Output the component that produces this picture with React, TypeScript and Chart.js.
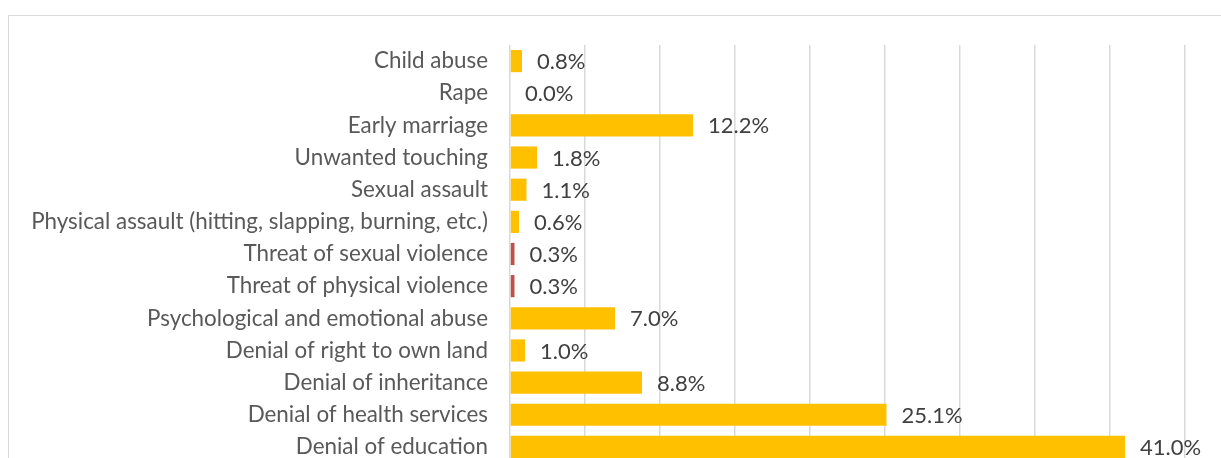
import React, { useEffect, useRef } from "react";
import { Chart, registerables } from "chart.js";

Chart.register(...registerables);

const categories = [
  "Child abuse",
  "Rape",
  "Early marriage",
  "Unwanted touching",
  "Sexual assault",
  "Physical assault (hitting, slapping, burning, etc.)",
  "Threat of sexual violence",
  "Threat of physical violence",
  "Psychological and emotional abuse",
  "Denial of right to own land",
  "Denial of inheritance",
  "Denial of health services",
  "Denial of education",
];

const values = [0.8, 0.0, 12.2, 1.8, 1.1, 0.6, 0.3, 0.3, 7.0, 1.0, 8.8, 25.1, 41.0];

const barColors = [
  "#FFC000", "#FFC000", "#FFC000", "#FFC000", "#FFC000", "#FFC000",
  "#C0504D", "#C0504D",
  "#FFC000", "#FFC000", "#FFC000", "#FFC000", "#FFC000",
];

const xMin = 0;
const xMax = 45;
const xStep = 5;

const FONT = "Lato, 'Open Sans', sans-serif";
const LABEL_SIZE = 22.4;
const VALUE_SIZE = 22;

const valueLabelPlugin = {
  id: "valueLabels",
  afterDatasetsDraw(chart: any) {
    const ctx = chart.ctx;
    const meta = chart.getDatasetMeta(0);
    ctx.save();
    ctx.font = `${VALUE_SIZE}px ${FONT}`;
    ctx.fillStyle = "#404040";
    ctx.textAlign = "left";
    ctx.textBaseline = "middle";
    meta.data.forEach((bar: any, i: number) => {
      const v = values[i];
      ctx.fillText(v.toFixed(1) + "%", bar.x + 15, bar.y + 1);
    });
    ctx.restore();
  },
};

export default function App() {
  const ref = useRef<HTMLCanvasElement | null>(null);

  useEffect(() => {
    if (!ref.current) return;
    const chart = new Chart(ref.current, {
      type: "bar",
      data: {
        labels: categories,
        datasets: [
          {
            data: values,
            backgroundColor: barColors,
            borderWidth: 0,
            barPercentage: 1,
            categoryPercentage: 0.69,
          },
        ],
      },
      options: {
        indexAxis: "y",
        responsive: false,
        maintainAspectRatio: false,
        animation: false,
        layout: { padding: { top: 29, right: 54, bottom: 33, left: 0 } },
        plugins: {
          legend: { display: false },
          tooltip: { enabled: false },
        },
        scales: {
          x: {
            min: xMin,
            max: xMax,
            afterFit(scale: any) {
              scale.height = 0;
              scale.paddingLeft = 0;
              scale.paddingRight = 0;
            },
            ticks: { display: false, stepSize: xStep },
            grid: { color: "#d9d9d9", lineWidth: 1.5, drawTicks: false },
            border: { display: false },
          },
          y: {
            afterFit(scale: any) {
              scale.width = 501;
              scale.paddingTop = 0;
              scale.paddingBottom = 0;
            },
            ticks: {
              color: "#595959",
              padding: 22,
              font: { family: FONT, size: LABEL_SIZE },
            },
            grid: { display: false, drawTicks: false },
            border: { display: false },
          },
        },
      },
      plugins: [valueLabelPlugin],
    });
    return () => chart.destroy();
  }, []);

  return (
    <div
      style={{
        position: "absolute",
        left: 8,
        top: 15,
        width: 1240,
        height: 490,
        border: "1px solid #d9d9d9",
        background: "#fff",
      }}
    >
      <canvas ref={ref} width={1230} height={480} style={{ display: "block" }} />
    </div>
  );
}
